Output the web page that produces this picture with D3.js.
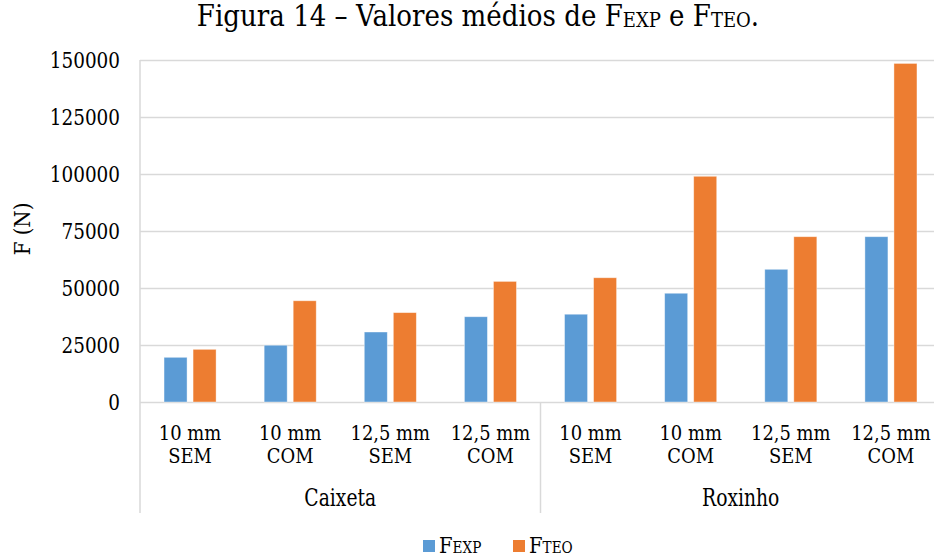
<!DOCTYPE html>
<html><head><meta charset="utf-8">
<script src="https://cdn.jsdelivr.net/npm/d3@7"></script>
<style>body{margin:0;background:#fff}svg{display:block}</style>
</head><body><svg id="c" width="934" height="559"></svg>
<script>
const categories = ["10 mm|SEM","10 mm|COM","12,5 mm|SEM","12,5 mm|COM","10 mm|SEM ","10 mm|COM ","12,5 mm|SEM ","12,5 mm|COM "];
const groups = ["Caixeta","Roxinho"];
const seriesNames = ["FEXP","FTEO"];
const fexp = [19600, 24900, 30700, 37400, 38500, 47700, 58200, 72500];
const fteo = [23100, 44400, 39200, 52900, 54500, 99000, 72500, 148500];
const yTicks = [0,25000,50000,75000,100000,125000,150000];
const colors = ["#5b9bd5","#ed7d31"];
const FONT = "'DejaVu Serif', 'Liberation Serif', serif";

const svg = d3.select("#c").attr("font-family", FONT);
const L = 140, R = 941, T = 60, B = 402;
const x = d3.scaleBand().domain(categories).range([L,R]).paddingInner(0.48).paddingOuter(0.24);
const x1 = d3.scaleBand().domain(seriesNames).range([0,x.bandwidth()]).paddingInner(0.207);
const y = d3.scaleLinear().domain([0,150000]).range([B,T]);
const grid = "#d9d9d9";

const ya = svg.append("g").attr("transform",`translate(${L},0)`)
  .call(d3.axisLeft(y).tickValues(yTicks).tickSize(-(R-L)).tickPadding(20).tickFormat(d=>String(d)));
ya.select(".domain").remove();
ya.selectAll(".tick line").attr("stroke",grid).attr("stroke-width",1.5);
ya.selectAll(".tick text").each(function(d){
  d3.select(this).attr("x",null).attr("dy",null).attr("fill","#000")
   .attr("font-family",FONT).attr("font-size","23px")
   .attr("text-anchor","end").attr("dominant-baseline","central")
   .attr("transform","translate(-20,0) scale(0.8,1)");
});

svg.append("line").attr("x1",L).attr("x2",L).attr("y1",T).attr("y2",513).attr("stroke",grid).attr("stroke-width",1.5);
const sep = (x(categories[3])+x.bandwidth()+x(categories[4]))/2;
svg.append("line").attr("x1",sep).attr("x2",sep).attr("y1",B).attr("y2",513).attr("stroke",grid).attr("stroke-width",1.5);

const data = categories.map((c,i)=>({c, v:[fexp[i],fteo[i]]}));
const g = svg.append("g");
g.selectAll("g").data(data).join("g").attr("transform",d=>`translate(${x(d.c)},0)`)
 .selectAll("rect").data(d=>d.v.map((v,j)=>({k:seriesNames[j],v,j}))).join("rect")
 .attr("x",d=>x1(d.k)).attr("width",x1.bandwidth())
 .attr("y",d=>y(d.v)).attr("height",d=>B-y(d.v))
 .attr("fill",d=>colors[d.j]).attr("stroke","#fff").attr("stroke-opacity",0.5).attr("stroke-width",0.8);

const xl = svg.append("g");
categories.forEach(c=>{
  const cx = x(c)+x.bandwidth()/2;
  const parts = c.trim().split("|");
  const t = xl.append("text").attr("transform",`translate(${cx},440) scale(0.92,1)`)
    .attr("text-anchor","middle").attr("font-family",FONT).attr("font-size","19.5px");
  t.append("tspan").attr("x",0).attr("y",0).text(parts[0]);
  t.append("tspan").attr("x",0).attr("y",23).text(parts[1]);
});
groups.forEach((gname,i)=>{
  const a = x(categories[i*4]) , b = x(categories[i*4+3])+x.bandwidth();
  svg.append("text").attr("transform",`translate(${(a+b)/2},506) scale(0.78,1)`)
    .attr("text-anchor","middle").attr("font-family",FONT).attr("font-size","24px").text(gname);
});

svg.append("text").attr("transform","translate(30,229) rotate(-90) scale(0.9,1)").attr("text-anchor","middle").attr("font-family",FONT).attr("font-size","22px").text("F (N)");

const tt = svg.append("text").attr("transform","translate(478,26) scale(0.9,1)").attr("text-anchor","middle").attr("font-family",FONT).attr("font-size","29px");
tt.append("tspan").text("Figura 14 – Valores médios de F");
tt.append("tspan").attr("font-size","20px").attr("dy",1).text("EXP");
tt.append("tspan").attr("dy",-1).text(" e F");
tt.append("tspan").attr("font-size","20px").attr("dy",1).text("TEO");
tt.append("tspan").attr("dy",-1).text(".");

const leg = svg.append("g");
const lx = [423, 513];
seriesNames.forEach((s,i)=>{
  leg.append("rect").attr("x",lx[i]).attr("y",540).attr("width",12).attr("height",12).attr("fill",colors[i]);
  const t = leg.append("text").attr("transform",`translate(${lx[i]+16},553) scale(0.85,1)`).attr("font-family",FONT).attr("font-size","23px");
  t.append("tspan").text(s[0]);
  t.append("tspan").attr("font-size","16px").text(s.slice(1));
});
</script></body></html>
